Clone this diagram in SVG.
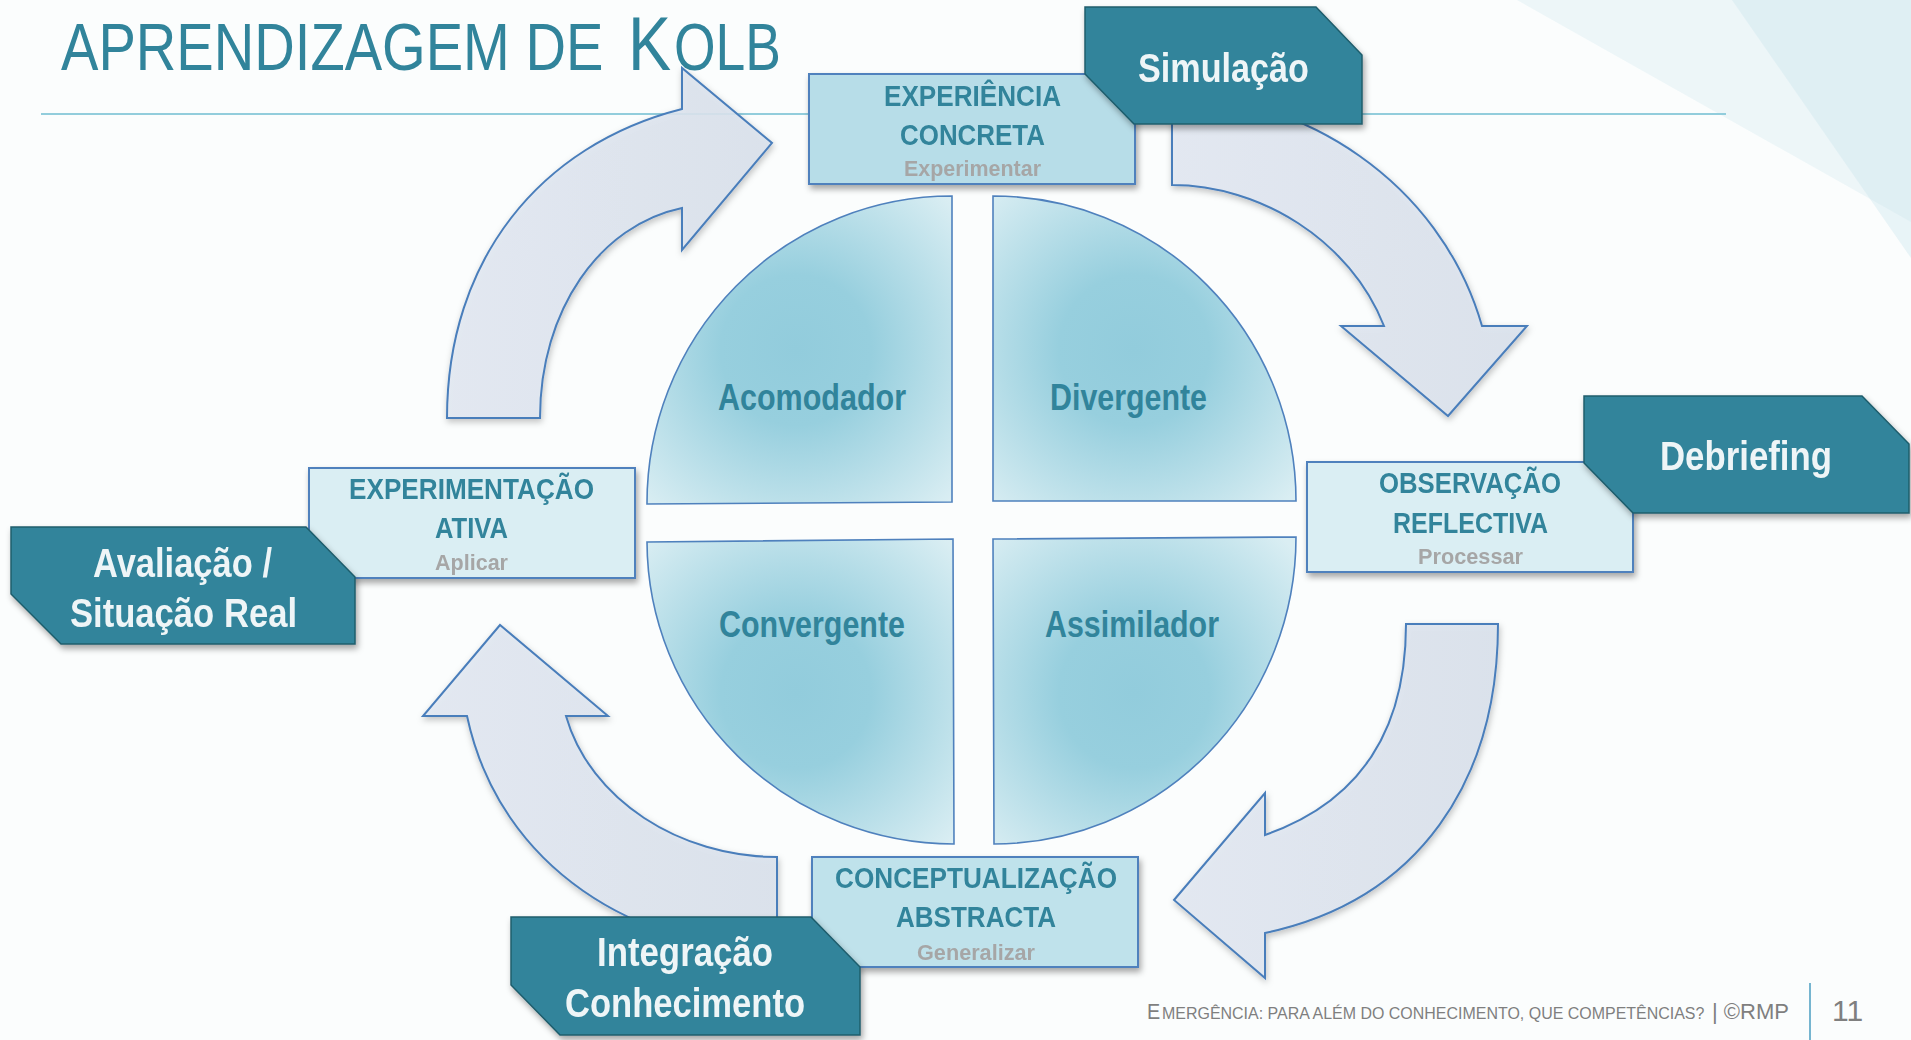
<svg xmlns="http://www.w3.org/2000/svg" width="1911" height="1040" viewBox="0 0 1911 1040">
<defs>
<style>
text{font-family:'Liberation Sans',Arial,sans-serif}
.ttl{fill:#31849B;font-size:66px}
.box{stroke:#4F81BD;stroke-width:2}
.bt{font-weight:bold;font-size:29px;fill:#31849B}
.bs{font-weight:bold;font-size:22px;fill:#A6A6A6}
.tag{fill:#31849B;stroke:#1F5D6C;stroke-width:1.5}
.tt{font-weight:bold;font-size:40px;fill:#EEF5F7}
.q{stroke:#4F81BD;stroke-width:1.6}
.qt{font-weight:bold;font-size:37px;fill:#31849B}
.arr{fill:url(#ag);fill-opacity:0.88;stroke:#4A7EBB;stroke-width:2;stroke-linejoin:miter}
.ft{fill:#7F7F7F}
</style>
<filter id="sh" x="-10%" y="-10%" width="130%" height="140%">
<feDropShadow dx="2" dy="4" stdDeviation="3" flood-color="#000" flood-opacity="0.35"/>
</filter>
<filter id="ash" x="-10%" y="-10%" width="130%" height="130%">
<feDropShadow dx="1" dy="3" stdDeviation="3" flood-color="#000" flood-opacity="0.25"/>
</filter>
<linearGradient id="ag" x1="0" y1="0" x2="1" y2="0">
<stop offset="0" stop-color="#E3E9F2"/>
<stop offset="1" stop-color="#DAE2ED"/>
</linearGradient>
<radialGradient id="g1" gradientUnits="userSpaceOnUse" cx="796" cy="350" r="215">
<stop offset="0" stop-color="#92CCDC"/><stop offset="0.35" stop-color="#97CFDE"/><stop offset="1" stop-color="#DAEEF3"/>
</radialGradient>
<radialGradient id="g2" gradientUnits="userSpaceOnUse" cx="1134" cy="350" r="215">
<stop offset="0" stop-color="#92CCDC"/><stop offset="0.35" stop-color="#97CFDE"/><stop offset="1" stop-color="#DAEEF3"/>
</radialGradient>
<radialGradient id="g3" gradientUnits="userSpaceOnUse" cx="796" cy="693" r="215">
<stop offset="0" stop-color="#92CCDC"/><stop offset="0.35" stop-color="#97CFDE"/><stop offset="1" stop-color="#DAEEF3"/>
</radialGradient>
<radialGradient id="g4" gradientUnits="userSpaceOnUse" cx="1134" cy="693" r="215">
<stop offset="0" stop-color="#92CCDC"/><stop offset="0.35" stop-color="#97CFDE"/><stop offset="1" stop-color="#DAEEF3"/>
</radialGradient>
</defs>

<g id="background">
<rect x="0" y="0" width="1911" height="1040" fill="#FBFDFD"/>
<polygon points="1517,0 1911,0 1911,222" fill="#C8E4EC" fill-opacity="0.27"/>
<polygon points="1732,0 1911,0 1911,258" fill="#C8E4EC" fill-opacity="0.37"/>
<line x1="41" y1="114" x2="1726" y2="114" stroke="#92CDDC" stroke-width="2"/>
</g>

<g id="title">
<text class="ttl" transform="translate(61,70) scale(0.85,1)" x="0" y="0">APRENDIZAGEM DE</text>
<text class="ttl" transform="translate(628,70) scale(0.85,1)" x="0" y="0" style="font-size:76px">K</text>
<text class="ttl" transform="translate(674,70) scale(0.81,1)" x="0" y="0">OLB</text>
</g>

<g id="connectors" filter="url(#ash)">
<path class="arr" d="M447,418 C447,260 540,145 682,109 L682,68 L772,143 L682,250 L682,208 C600,225 540,310 540,418 Z"/>
<path class="arr" d="M1172,95 C1300,95 1440,180 1482,326 L1527,326 L1448,416 L1341,326 L1384,326 C1350,240 1260,185 1172,185 Z"/>
<path class="arr" d="M1406,624 L1498,624 C1498,780 1420,900 1265,933 L1265,978 L1174,900 L1265,793 L1265,835 C1365,800 1406,725 1406,624 Z"/>
<path class="arr" d="M777,950 L777,857 C680,857 590,800 566,716 L608,716 L500,625 L423,716 L467,716 C500,870 640,950 777,950 Z"/>
</g>

<g id="acomodador">
<path class="q" fill="url(#g1)" d="M952,196 L952,502 L647,504 A305,307 0 0 1 952,196 Z"/>
<text class="qt" x="718" y="410" textLength="188" lengthAdjust="spacingAndGlyphs">Acomodador</text>
</g>
<g id="divergente">
<path class="q" fill="url(#g2)" d="M993,196 L993,501 L1296,501 A303,305 0 0 0 993,196 Z"/>
<text class="qt" x="1050" y="410" textLength="157" lengthAdjust="spacingAndGlyphs">Divergente</text>
</g>
<g id="convergente">
<path class="q" fill="url(#g3)" d="M647,542 L953,539 L954,844 A307,303 0 0 1 647,542 Z"/>
<text class="qt" x="719" y="637" textLength="186" lengthAdjust="spacingAndGlyphs">Convergente</text>
</g>
<g id="assimilador">
<path class="q" fill="url(#g4)" d="M993,539 L1296,537 A303,307 0 0 1 994,844 Z"/>
<text class="qt" x="1045" y="637" textLength="174" lengthAdjust="spacingAndGlyphs">Assimilador</text>
</g>

<g id="experiencia-concreta" filter="url(#sh)">
<rect class="box" x="809" y="74" width="326" height="110" fill="#B7DDE8"/>
<text class="bt" x="884" y="106" textLength="177" lengthAdjust="spacingAndGlyphs">EXPERIÊNCIA</text>
<text class="bt" x="900" y="145" textLength="145" lengthAdjust="spacingAndGlyphs">CONCRETA</text>
<text class="bs" x="904" y="176" textLength="137" lengthAdjust="spacingAndGlyphs">Experimentar</text>
</g>
<g id="observacao-reflectiva" filter="url(#sh)">
<rect class="box" x="1307" y="462" width="326" height="110" fill="#DAEEF3"/>
<text class="bt" x="1379" y="493" textLength="182" lengthAdjust="spacingAndGlyphs">OBSERVAÇÃO</text>
<text class="bt" x="1393" y="533" textLength="155" lengthAdjust="spacingAndGlyphs">REFLECTIVA</text>
<text class="bs" x="1418" y="564" textLength="105" lengthAdjust="spacingAndGlyphs">Processar</text>
</g>
<g id="experimentacao-ativa" filter="url(#sh)">
<rect class="box" x="309" y="468" width="326" height="110" fill="#DAEEF3"/>
<text class="bt" x="349" y="499" textLength="245" lengthAdjust="spacingAndGlyphs">EXPERIMENTAÇÃO</text>
<text class="bt" x="435" y="538" textLength="73" lengthAdjust="spacingAndGlyphs">ATIVA</text>
<text class="bs" x="435" y="570" textLength="73" lengthAdjust="spacingAndGlyphs">Aplicar</text>
</g>
<g id="conceptualizacao-abstracta" filter="url(#sh)">
<rect class="box" x="812" y="857" width="326" height="110" fill="#BFE2EB"/>
<text class="bt" x="835" y="888" textLength="282" lengthAdjust="spacingAndGlyphs">CONCEPTUALIZAÇÃO</text>
<text class="bt" x="896" y="927" textLength="160" lengthAdjust="spacingAndGlyphs">ABSTRACTA</text>
<text class="bs" x="917" y="960" textLength="118" lengthAdjust="spacingAndGlyphs">Generalizar</text>
</g>

<g id="simulacao" filter="url(#sh)">
<polygon class="tag" points="1085,7 1316,7 1362,55 1362,124 1134,124 1085,74"/>
<text class="tt" x="1138" y="82" textLength="171" lengthAdjust="spacingAndGlyphs">Simulação</text>
</g>
<g id="debriefing" filter="url(#sh)">
<polygon class="tag" points="1584,396 1862,396 1909,444 1909,513 1633,513 1584,463"/>
<text class="tt" x="1660" y="470" textLength="172" lengthAdjust="spacingAndGlyphs">Debriefing</text>
</g>
<g id="avaliacao" filter="url(#sh)">
<polygon class="tag" points="11,527 306,527 355,577 355,644 61,644 11,594"/>
<text class="tt" x="93" y="577" textLength="179" lengthAdjust="spacingAndGlyphs">Avaliação /</text>
<text class="tt" x="70" y="627" textLength="227" lengthAdjust="spacingAndGlyphs">Situação Real</text>
</g>
<g id="integracao" filter="url(#sh)">
<polygon class="tag" points="511,917 811,917 860,967 860,1035 560,1035 511,985"/>
<text class="tt" x="597" y="966" textLength="176" lengthAdjust="spacingAndGlyphs">Integração</text>
<text class="tt" x="565" y="1017" textLength="240" lengthAdjust="spacingAndGlyphs">Conhecimento</text>
</g>

<g id="footer">
<text class="ft" transform="translate(1147,1019) scale(0.9,1)" x="0" y="0" font-size="22">E</text>
<text class="ft" transform="translate(1162,1019) scale(0.94,1)" x="0" y="0" font-size="17">MERGÊNCIA: PARA ALÉM DO CONHECIMENTO, QUE COMPETÊNCIAS?</text>
<text class="ft" x="1712" y="1019" font-size="22">| ©RMP</text>
<line x1="1810" y1="983" x2="1810" y2="1040" stroke="#4A9CC0" stroke-width="1.5"/>
<text class="ft" x="1832" y="1021" font-size="30">11</text>
</g>
</svg>
